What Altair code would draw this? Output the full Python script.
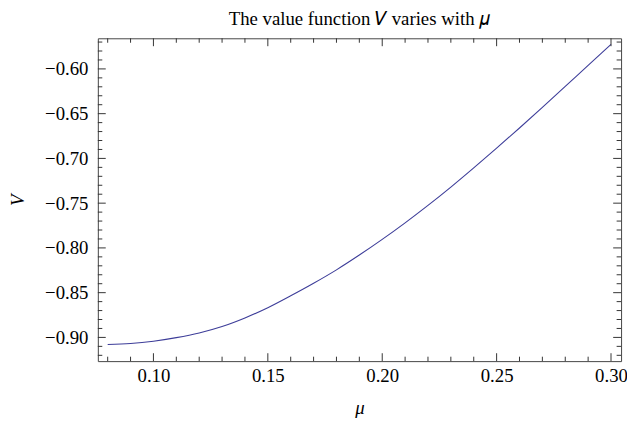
import altair as alt
import pandas as pd

# Curve values
mu = [0.08, 0.09, 0.10, 0.11, 0.12, 0.13, 0.14, 0.15, 0.16, 0.17, 0.18, 0.19,
      0.20, 0.21, 0.22, 0.23, 0.24, 0.25, 0.26, 0.27, 0.28, 0.29, 0.30]
V = [-0.9080, -0.9068, -0.9042, -0.9002, -0.8950, -0.8878, -0.8782, -0.8668,
     -0.8535, -0.8395, -0.8245, -0.8080, -0.7905, -0.7720, -0.7525, -0.7320,
     -0.7105, -0.6885, -0.6660, -0.6430, -0.6195, -0.5960, -0.5725]

# Tick values
x_major = [0.10, 0.15, 0.20, 0.25, 0.30]
x_minor = [0.08, 0.09, 0.11, 0.12, 0.13, 0.14, 0.16, 0.17, 0.18, 0.19,
           0.21, 0.22, 0.23, 0.24, 0.26, 0.27, 0.28, 0.29]
y_major = [-0.90, -0.85, -0.80, -0.75, -0.70, -0.65, -0.60]
y_minor = [-0.92, -0.91, -0.89, -0.88, -0.87, -0.86, -0.84, -0.83, -0.82, -0.81,
           -0.79, -0.78, -0.77, -0.76, -0.74, -0.73, -0.72, -0.71, -0.69, -0.68,
           -0.67, -0.66, -0.64, -0.63, -0.62, -0.61, -0.59, -0.58, -0.57]

W, H = 530, 327
MAJ, MIN = 8, 4.5
FONT = "Liberation Serif"
TICK_COLOR = "#333333"

xs = alt.Scale(domain=[0.0757, 0.3044], nice=False, zero=False)
ys = alt.Scale(domain=[-0.9265, -0.5658], nice=False, zero=False)

xaxis = alt.Axis(values=x_major, format=".2f", labelPadding=6,
                 titlePadding=13, titleFontStyle="italic")
yaxis = alt.Axis(values=y_major, format=".2f", labelPadding=10,
                 titlePadding=17, titleFontStyle="italic")

df = pd.DataFrame({"mu": mu, "V": V})
dxM = pd.DataFrame({"mu": x_major})
dxm = pd.DataFrame({"mu": x_minor})
dyM = pd.DataFrame({"V": y_major})
dym = pd.DataFrame({"V": y_minor})

line = alt.Chart(df).mark_line(color="#3D3D99", strokeWidth=1.1,
                               interpolate="monotone").encode(
    x=alt.X("mu:Q", scale=xs, title="μ", axis=xaxis),
    y=alt.Y("V:Q", scale=ys, title="V", axis=yaxis),
)


def xticks(d, y0, y1):
    return alt.Chart(d).mark_rule(color=TICK_COLOR, strokeWidth=1).encode(
        x=alt.X("mu:Q", scale=xs, axis=xaxis, title="μ"),
        y=alt.value(y0), y2=alt.value(y1))


def yticks(d, x0, x1):
    return alt.Chart(d).mark_rule(color=TICK_COLOR, strokeWidth=1).encode(
        y=alt.Y("V:Q", scale=ys, axis=yaxis, title="V"),
        x=alt.value(x0), x2=alt.value(x1))


layers = [
    line,
    xticks(dxM, H, H - MAJ), xticks(dxm, H, H - MIN),
    xticks(dxM, 0, MAJ), xticks(dxm, 0, MIN),
    yticks(dyM, 0, MAJ), yticks(dym, 0, MIN),
    yticks(dyM, W, W - MAJ), yticks(dym, W, W - MIN),
]

chart = alt.layer(*layers).properties(
    width=W, height=H,
    title=alt.TitleParams("The value function 𝑉 varies with 𝜇", font=FONT,
                          fontSize=19, fontWeight="normal", color="black",
                          anchor="middle", offset=9),
    autosize=alt.AutoSizeParams(type="none"),
    padding={"left": 91, "top": 28, "right": 6, "bottom": 62},
).configure_view(
    stroke="#444444", strokeWidth=1
).configure_axis(
    domain=False, ticks=False, grid=False,
    labelFont=FONT, labelFontSize=19, labelColor="black",
    titleFont=FONT, titleFontSize=19, titleColor="black", titleFontWeight="normal",
)

chart.save("out.html", embed_options={"renderer": "svg", "actions": False})
